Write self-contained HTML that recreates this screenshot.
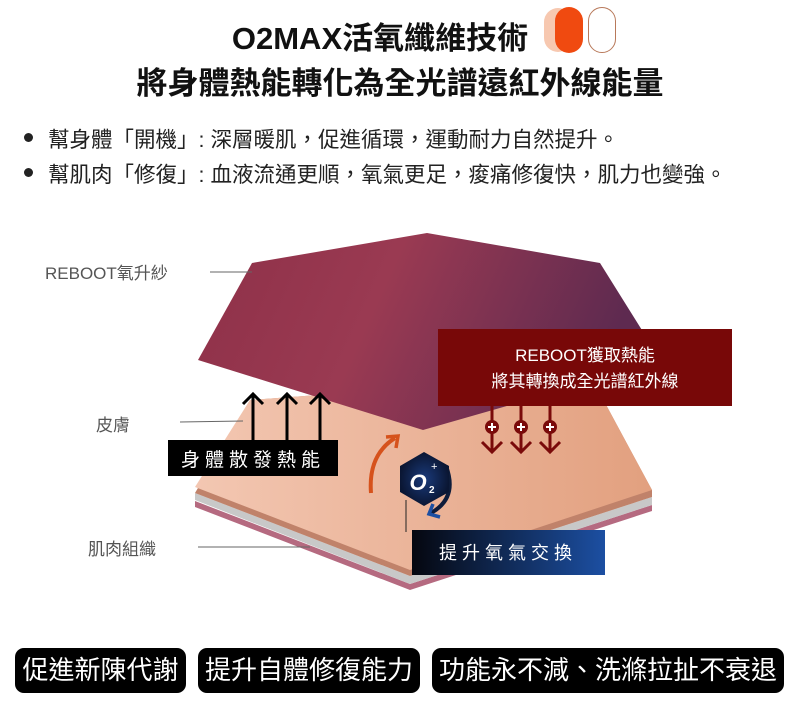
<!DOCTYPE html>
<html><head><meta charset="utf-8"><style>
body{margin:0;width:800px;height:718px;background:#fff;overflow:hidden;position:relative;font-family:"Liberation Sans","Noto Sans CJK TC",sans-serif}
.t{position:absolute;left:0;width:800px;text-align:center;font-weight:bold;color:#111;font-size:31px;white-space:nowrap}
.b{position:absolute;left:30px;font-size:21.5px;color:#222;white-space:nowrap}
.b:before{content:"";position:absolute;left:-6px;top:10px;width:9px;height:9px;border-radius:50%;background:#222}
.b span{margin-left:18px}
.btn{position:absolute;top:648px;height:45px;background:#000;color:#fff;border-radius:9px;font-size:26px;line-height:45px;text-align:center;white-space:nowrap}
</style></head><body>
<div class="t" style="top:13px;left:-20px">O2MAX活氧纖維技術</div>
<div style="position:absolute;left:544px;top:8px;width:28px;height:44px;border-radius:14px;background:#f7c8b0"></div>
<div style="position:absolute;left:555px;top:7px;width:28px;height:46px;border-radius:14px;background:#f04a10"></div>
<div style="position:absolute;left:588px;top:7px;width:26px;height:44px;border-radius:14px;border:1.5px solid #b8795a"></div>
<div class="t" style="top:58px">將身體熱能轉化為全光譜遠紅外線能量</div>
<div class="b" style="top:123px"><span>幫身體「開機」: 深層暖肌，促進循環，運動耐力自然提升。</span></div>
<div class="b" style="top:158px"><span>幫肌肉「修復」: 血液流通更順，氧氣更足，痠痛修復快，肌力也變強。</span></div>
<svg width="800" height="718" style="position:absolute;left:0;top:0" font-family="Liberation Sans,Noto Sans CJK TC,sans-serif">
<defs>
<linearGradient id="top" x1="0" y1="0" x2="1" y2="0.2"><stop offset="0" stop-color="#8e3048"/><stop offset="0.45" stop-color="#9a3a52"/><stop offset="1" stop-color="#5e2a50"/></linearGradient>
<linearGradient id="skin" x1="0" y1="0" x2="1" y2="0"><stop offset="0" stop-color="#f3c7b2"/><stop offset="1" stop-color="#e2a07f"/></linearGradient>
<linearGradient id="blu" x1="0" y1="0" x2="1" y2="0"><stop offset="0" stop-color="#05070f"/><stop offset="1" stop-color="#1c4fa2"/></linearGradient>
<radialGradient id="hx"><stop offset="0" stop-color="#1a3a7a"/><stop offset="1" stop-color="#0a1633"/></radialGradient>
</defs>
<polygon points="195,507 410,590 652,511 652,505 410,584 195,501" fill="#b56a80"/>
<polygon points="195,500 410,584 652,505 652,497 410,576 195,493" fill="#c8c8c8"/>
<polygon points="250,400 590,375 652,490 652,497 410,576 195,493" fill="#c0826a"/>
<polygon points="250,400 590,375 652,490 410,570 195,487" fill="url(#skin)"/>
<polygon points="252,263 427,233 600,263 645,335 580,385 423,430 198,360" fill="url(#top)"/>
<g font-size="17" fill="#555">
<text x="45" y="279">REBOOT氧升紗</text><line x1="210" y1="272" x2="252" y2="272" stroke="#666"/>
<text x="96" y="431">皮膚</text><line x1="180" y1="422" x2="243" y2="421" stroke="#666"/>
<text x="88" y="555">肌肉組織</text><line x1="198" y1="547" x2="310" y2="547" stroke="#666"/>
</g>
<g stroke="#000" stroke-width="3" fill="none">
<path d="M253,442V394M243,404L253,394L263,404M287,442V394M277,404L287,394L297,404M320,442V394M310,404L320,394L330,404"/>
</g>
<rect x="168" y="440" width="170" height="36" fill="#000"/>
<text x="253" y="466" fill="#fff" font-size="19" text-anchor="middle" letter-spacing="5">身體散發熱能</text>
<rect x="438" y="329" width="294" height="77" fill="#780808"/>
<text x="585" y="361" fill="#fff" font-size="17" text-anchor="middle">REBOOT獲取熱能</text>
<text x="585" y="387" fill="#fff" font-size="17" text-anchor="middle">將其轉換成全光譜紅外線</text>
<g stroke="#7a0a0a" stroke-width="3" fill="none">
<path d="M492,406V452M482,442L492,452L502,442M521,406V452M511,442L521,452L531,442M550,406V452M540,442L550,452L560,442"/>
</g>
<g fill="#7a0a0a"><circle cx="492" cy="427" r="7"/><circle cx="521" cy="427" r="7"/><circle cx="550" cy="427" r="7"/></g>
<g stroke="#fff" stroke-width="2"><path d="M488,427h8M492,423v8M517,427h8M521,423v8M546,427h8M550,423v8"/></g>
<line x1="406" y1="500" x2="406" y2="532" stroke="#222"/>
<path d="M371,493 Q368,455 395,438" stroke="#d6521c" stroke-width="4" fill="none"/>
<path d="M386,437L398,436L396,448" stroke="#d6521c" stroke-width="3.5" fill="none"/>
<path d="M446,466 Q458,498 431,513" stroke="#0e1c3a" stroke-width="4" fill="none"/>
<path d="M433,504L429,514L440,517" stroke="#1c4fa2" stroke-width="3.5" fill="none"/>
<polygon points="424,452 449,466 449,492 424,506 400,492 400,466" fill="url(#hx)"/>
<text x="418" y="490" fill="#fff" font-size="22" font-weight="bold" font-style="italic" text-anchor="middle">O</text>
<text x="429" y="493" fill="#fff" font-size="10" font-weight="bold">2</text>
<text x="431" y="470" fill="#fff" font-size="11">+</text>
<rect x="412" y="530" width="193" height="45" fill="url(#blu)"/>
<text x="508" y="559" fill="#fff" font-size="18" text-anchor="middle" letter-spacing="5">提升氧氣交換</text>
</svg>
<div class="btn" style="left:15px;width:171px">促進新陳代謝</div>
<div class="btn" style="left:198px;width:222px">提升自體修復能力</div>
<div class="btn" style="left:432px;width:352px">功能永不減、洗滌拉扯不衰退</div>
</body></html>
